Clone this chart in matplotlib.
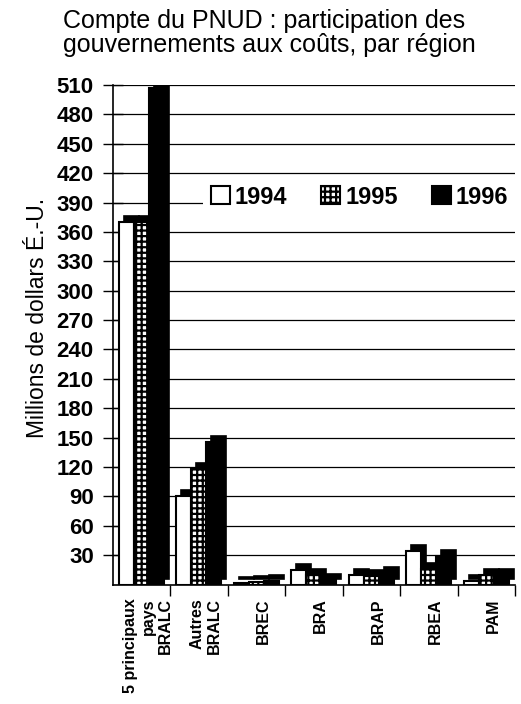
import numpy as np
import matplotlib
matplotlib.use("Agg")
import matplotlib.pyplot as plt
from matplotlib.patches import Patch
from matplotlib.transforms import offset_copy

plt.rcParams["font.family"] = ["Liberation Sans", "DejaVu Sans"]
plt.rcParams["hatch.linewidth"] = 1.6
plt.rcParams["hatch.color"] = "black"

# données
regions = ["5 principaux\npays\nBRALC", "Autres\nBRALC", "BREC", "BRA", "BRAP", "RBEA", "PAM"]
years = ["1994", "1995", "1996"]
v1994 = [370, 90, 2, 15, 10, 34, 4]
v1995 = [370, 118, 3, 10, 9, 16, 10]
v1996 = [507, 146, 4, 5, 12, 29, 10]
yticks = list(range(30, 511, 30))

# styles des séries
styles = [
    dict(facecolor="white", edgecolor="black", hatch=None),
    dict(facecolor="white", edgecolor="black", hatch="+++"),
    dict(facecolor="black", edgecolor="black", hatch=None),
]

fig = plt.figure(figsize=(5.21, 7.04), dpi=100)
ax = fig.add_axes([112.5 / 521, 1 - 584.5 / 704, 402.5 / 521, 499.5 / 704])

x = np.arange(len(regions)) + 0.5
w = 0.26
# ombre décalée pour l'effet 3D
depth = offset_copy(ax.transData, fig=fig, x=5, y=6, units="dots")

for k, vals in enumerate([v1994, v1995, v1996]):
    pos = x + (k - 1) * w
    ax.bar(pos, vals, w, color="black", edgecolor="black", linewidth=1.2,
           transform=depth, zorder=2)
for k, vals in enumerate([v1994, v1995, v1996]):
    pos = x + (k - 1) * w
    ax.bar(pos, vals, w, linewidth=1.5, zorder=3, label=years[k], **styles[k])

ax.set_xlim(0, len(regions))
ax.set_ylim(0, 510)
ax.set_yticks(yticks)
ax.set_yticklabels([str(t) for t in yticks], fontsize=16, fontweight="bold")
ax.tick_params(axis="y", direction="inout", length=15, width=1, pad=6)

ax.set_xticks(x + 0.12)
ax.set_xticklabels(regions, rotation=90, fontsize=11.5, fontweight="bold",
                   multialignment="right")
ax.set_xticks(np.arange(1, len(regions) + 1), minor=True)
ax.tick_params(axis="x", which="major", length=0, pad=10)
ax.tick_params(axis="x", which="minor", direction="out", length=8, width=1)

ax.grid(axis="y", color="black", linewidth=0.9, zorder=1)
ax.set_axisbelow(True)
for s in ["top", "right"]:
    ax.spines[s].set_visible(False)
ax.spines["left"].set_linewidth(1.2)
ax.spines["bottom"].set_linewidth(1.2)

# légende sur fond blanc, sans cadre visible (masque la ligne 390)
handles = [Patch(linewidth=1.5, label=years[k], **styles[k]) for k in range(3)]
leg = fig.legend(handles=handles, loc="center", bbox_to_anchor=(0.69, 0.72), ncol=3,
                 frameon=True, fancybox=False, framealpha=1, facecolor="white",
                 edgecolor="none", prop=dict(size=17, weight="bold"),
                 handlelength=0.8, handleheight=0.8, handletextpad=0.2,
                 columnspacing=1.45, borderpad=0.35, borderaxespad=0)

fig.text(63 / 521, 1 - 9 / 704,
         "Compte du PNUD : participation des\ngouvernements aux coûts, par région",
         ha="left", va="top", fontsize=18, linespacing=1.0)
fig.text(38 / 521, 1 - 318 / 704, "Millions de dollars É.-U.", rotation=90,
         ha="center", va="center", fontsize=16.5)

fig.savefig("out.png", dpi=100)
